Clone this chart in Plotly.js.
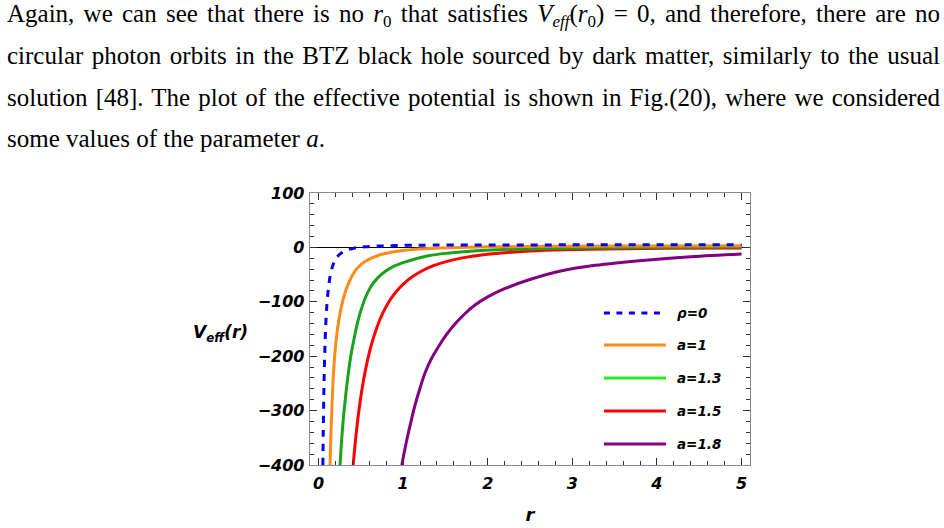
<!DOCTYPE html>
<html><head><meta charset="utf-8">
<script src="https://cdn.plot.ly/plotly-3.0.1.min.js"></script>
<style>
html,body{margin:0;padding:0;background:#fff;width:944px;height:528px;overflow:hidden}
#plot{position:absolute;left:0;top:0;width:944px;height:528px}
.ln{position:absolute;left:7px;width:933px;font-family:"Liberation Serif","Times New Roman",serif;font-size:25px;line-height:25px;white-space:nowrap;color:#000}
.ln sub{font-size:68%;line-height:0;vertical-align:-0.28em}
</style></head><body>
<div id="plot"></div>
<div id="para"></div>
<script>
// ---- data ----
const rRho0 = [0.052,0.058,0.065,0.075,0.085,0.1,0.12,0.145,0.175,0.21,0.26,0.33,0.42,0.55,0.75,1.1,1.6,2.4,3.5,5];
const vRho0 = [-400,-322,-256,-191,-147,-105,-72,-47.5,-31,-20,-11.5,-5.3,-1.4,1.2,2.8,3.9,4.4,4.6,4.7,4.8];

const rA1 = [0.137,0.148,0.16,0.178,0.2,0.225,0.25,0.28,0.315,0.355,0.4,0.46,0.53,0.62,0.73,0.86,1.02,1.25,1.55,2,2.7,3.7,5];
const vA1 = [-400,-340,-290,-230,-185,-150,-125,-103,-83,-66,-51,-38,-28,-20,-13.5,-8.8,-5.3,-2.5,-0.6,1,2,2.6,3];

const rA13 = [0.255,0.275,0.293,0.32,0.35,0.385,0.431,0.47,0.51,0.55,0.62,0.7,0.8,0.9,1.02,1.15,1.3,1.5,1.75,2.1,2.6,3.2,4,5];
const vA13 = [-400,-352,-317,-275,-235,-197,-160,-133,-112,-94,-72,-56,-43,-34,-27,-21,-15.5,-11,-7.5,-4.5,-2.3,-0.9,0,0.6];

const rA15 = [0.41,0.44,0.47,0.51,0.56,0.62,0.688,0.76,0.84,0.92,1,1.1,1.22,1.36,1.52,1.7,1.95,2.2,2.5,2.9,3.4,4.1,5];
const vA15 = [-400,-351,-310,-265,-222,-182,-148,-121,-98,-81,-68,-55,-43.4,-33.6,-25.6,-19.3,-13.4,-9.7,-6.8,-4.5,-2.9,-1.7,-1];

const rA18 = [0.985,1.02,1.061,1.1,1.141,1.2,1.259,1.33,1.416,1.51,1.613,1.73,1.85,2,2.2,2.48,2.875,3.27,3.9,4.4,5];
const vA18 = [-400,-372,-342,-316,-290,-259,-231,-206,-183,-161,-141,-122,-106,-91,-76,-60,-43,-33,-23,-17,-12];

const seriesNames = ['\u03C1=0','a=1','a=1.3','a=1.5','a=1.8'];
const xTickVals = [0,1,2,3,4,5];
const yTickVals = [-400,-300,-200,-100,0,100];

const paraLines = [
 'Again, we can see that there is no <i>r</i><sub>0</sub> that satisfies <i>V<sub>eff</sub></i>(<i>r</i><sub>0</sub>) = 0, and therefore, there are no',
 'circular photon orbits in the BTZ black hole sourced by dark matter, similarly to the usual',
 'solution [48]. The plot of the effective potential is shown in Fig.(20), where we considered',
 'some values of the parameter <i>a</i>.'
];

// ---- paragraph ----
const lineTops = [1, 43, 85, 126];
const para = document.getElementById('para');
paraLines.forEach((h,i)=>{
  const d=document.createElement('div'); d.className='ln'; d.style.top=lineTops[i]+'px';
  const s=document.createElement('span'); s.innerHTML=h; d.appendChild(s); para.appendChild(d);
  if(i<paraLines.length-1){
    const w=s.getBoundingClientRect().width;
    const spaces=(s.textContent.match(/ /g)||[]).length;
    s.style.wordSpacing=((933-w)/spaces)+'px';
  }
});

// ---- chart ----
const xs=[rRho0,rA1,rA13,rA15,rA18];
const ys=[vRho0,vA1,vA13,vA15,vA18];
const plotColors=['#0000ff','#ff8c1a','#1aa31a','#ff0000','#800080'];
const legendColors=['#0000ff','#ff8c1a','#22ee22','#ff0000','#800080'];
const plotDashes=['7px,7px','solid','solid','solid','solid'];
const legendDashes=['6px,6.5px','solid','solid','solid','solid'];

const traces = xs.map((x,i)=>({
  x:x, y:ys[i], type:'scatter', mode:'lines', name:seriesNames[i],
  line:{color:plotColors[i], width:3, dash:plotDashes[i], shape:'spline', smoothing:1},
  showlegend:false, hoverinfo:'skip'
})).reverse();

const tickFont={family:'DejaVu Sans', size:16, color:'#000', weight:'bold', style:'italic'};
const axCommon={
  showgrid:false, showline:true, linecolor:'#8a8a8a', linewidth:1.3, mirror:'ticks',
  ticks:'inside', ticklen:7, tickwidth:1, tickcolor:'#333', tickfont:tickFont
};

const legY=[0.5588,0.4412,0.3199,0.1985,0.0772];
const shapes=seriesNames.map((n,i)=>({
  type:'line', xref:'paper', yref:'paper', x0:0.668, x1:0.809, y0:legY[i], y1:legY[i],
  line:{color:legendColors[i], width:3, dash:legendDashes[i]}
}));
const annotations=seriesNames.map((n,i)=>({
  xref:'paper', yref:'paper', x:0.8295, y:legY[i], xanchor:'left', yanchor:'middle',
  text:n, showarrow:false,
  font:{family:'DejaVu Sans', size:13.5, color:'#000', weight:'bold', style:'italic'}
}));
annotations.push({
  xref:'paper', yref:'paper', x:-0.203, y:0.485, xanchor:'center', yanchor:'middle',
  text:'V<sub>eff</sub>(r)', showarrow:false,
  font:{family:'DejaVu Sans', size:17, color:'#000', weight:'bold', style:'italic'}
});

const layout={
  width:944, height:528,
  margin:{l:310, r:194, t:193, b:63, pad:0},
  paper_bgcolor:'rgba(0,0,0,0)', plot_bgcolor:'#fff',
  showlegend:false,
  xaxis:Object.assign({}, axCommon, {
    range:[-0.1,5.1], tickvals:xTickVals, zeroline:false, ticklabelstandoff:3,
    minor:{dtick:0.2, tick0:0, ticks:'inside', ticklen:4, tickcolor:'#333'},
    title:{text:'r', standoff:17, font:{family:'DejaVu Sans', size:18, color:'#000', weight:'bold', style:'italic'}}
  }),
  yaxis:Object.assign({}, axCommon, {
    range:[-400,100], tickvals:yTickVals, zeroline:true, zerolinecolor:'#000', zerolinewidth:1,
    ticklabelstandoff:1,
    minor:{dtick:20, tick0:0, ticks:'inside', ticklen:4, tickcolor:'#333'}
  }),
  shapes:shapes, annotations:annotations
};

Plotly.newPlot('plot', traces, layout, {staticPlot:true, displayModeBar:false});
</script>
</body></html>
